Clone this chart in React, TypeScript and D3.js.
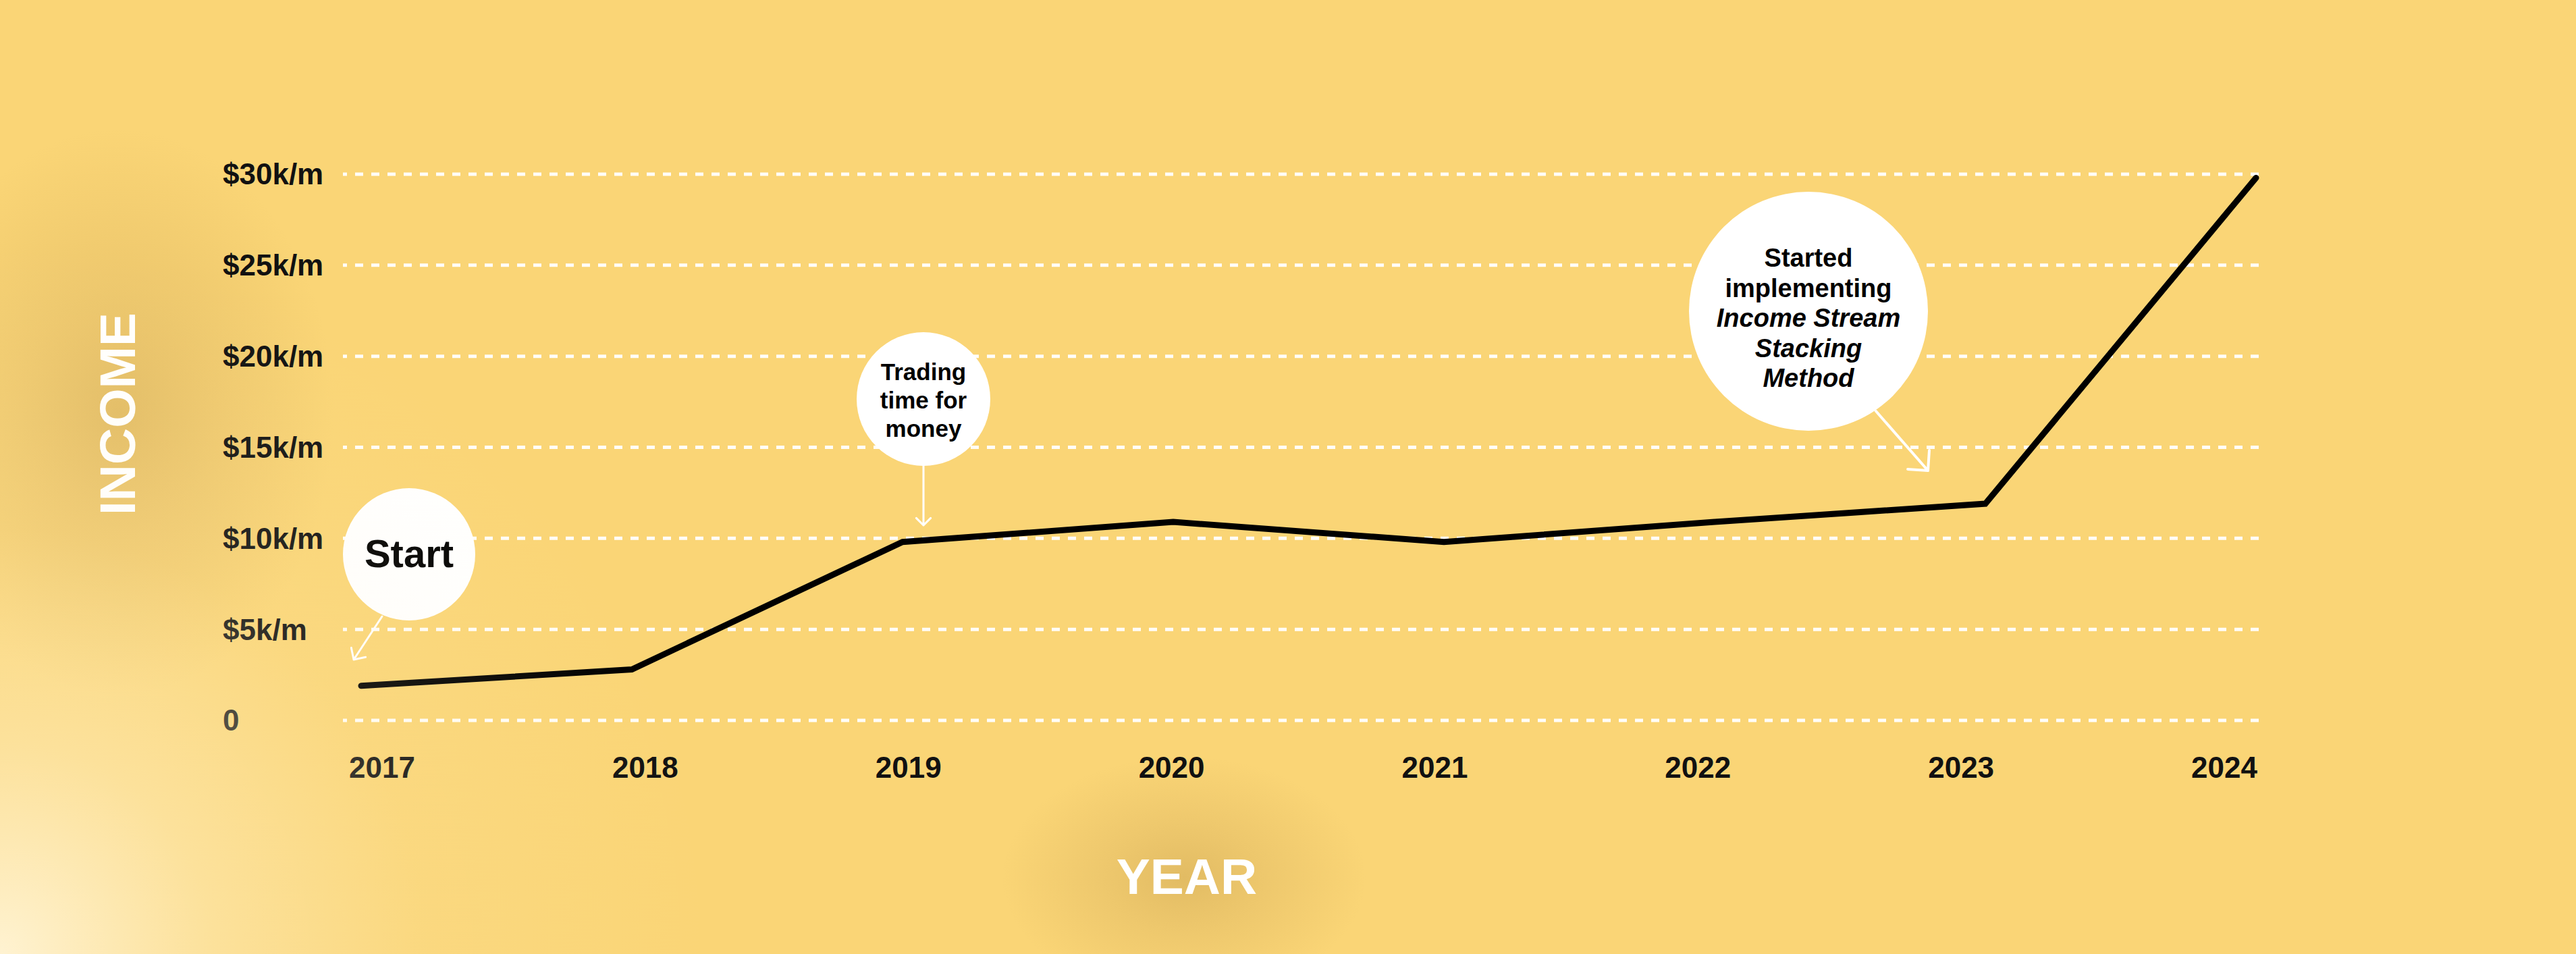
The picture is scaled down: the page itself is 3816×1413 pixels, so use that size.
import React from "react";
import * as d3 from "d3";

const years = [2017, 2018, 2019, 2020, 2021, 2022, 2023, 2024];
const incomeK = [1.9, 2.8, 9.8, 10.9, 9.8, 10.9, 11.9, 29.8];
const yTicks = [0, 5, 10, 15, 20, 25, 30];
const yTickLabels = ["0", "$5k/m", "$10k/m", "$15k/m", "$20k/m", "$25k/m", "$30k/m"];
const startLines = ["Start"];
const tradingLines = ["Trading", "time for", "money"];
const stackingLines = ["Started", "implementing", "Income Stream", "Stacking", "Method"];
const stackingItalic = [false, false, true, true, true];

const W = 3816;
const H = 1413;
const FONT = "'Liberation Sans', Arial, Helvetica, sans-serif";

function Arrow({ x1, y1, x2, y2, w = 3, arm = 18 }: any) {
  const dx = x2 - x1;
  const dy = y2 - y1;
  const len = Math.hypot(dx, dy);
  const ux = dx / len;
  const uy = dy / len;
  const c = Math.SQRT1_2;
  const a1x = ux * c - uy * c;
  const a1y = ux * c + uy * c;
  const a2x = ux * c + uy * c;
  const a2y = -ux * c + uy * c;
  const p = d3.path();
  p.moveTo(x1, y1);
  p.lineTo(x2, y2);
  p.moveTo(x2 - arm * a1x, y2 - arm * a1y);
  p.lineTo(x2, y2);
  p.lineTo(x2 - arm * a2x, y2 - arm * a2y);
  return (
    <path d={p.toString()} fill="none" stroke="#fff" strokeWidth={w} strokeLinecap="round" strokeLinejoin="round" />
  );
}

export default function App() {
  const y = d3.scaleLinear().domain([0, 30]).range([1067, 258]);
  const xLine = d3.scalePoint<number>().domain(years).range([535, 3342]);
  const xLabel = d3.scalePoint<number>().domain(years).range([566, 3295]);
  const gridX0 = 508;
  const gridX1 = 3352;

  const line = d3
    .line<number>()
    .x((_, i) => xLine(years[i]) as number)
    .y((d) => y(d));

  return (
    <>
      <style>{`body{margin:0;}`}</style>
      <svg width={W} height={H} style={{ display: "block" }} fontFamily={FONT}>
        <defs>
          <radialGradient id="darkBlob">
            <stop offset="0%" stopColor="#c49c4c" stopOpacity={0.45} />
            <stop offset="45%" stopColor="#c89f50" stopOpacity={0.24} />
            <stop offset="100%" stopColor="#c89f50" stopOpacity={0} />
          </radialGradient>
          <radialGradient id="cornerGlow" gradientUnits="userSpaceOnUse" cx={0} cy={H} r={1050}>
            <stop offset="0%" stopColor="#fff4d6" stopOpacity={0.95} />
            <stop offset="30%" stopColor="#fff0c8" stopOpacity={0.45} />
            <stop offset="60%" stopColor="#ffefc4" stopOpacity={0.12} />
            <stop offset="100%" stopColor="#ffefc4" stopOpacity={0} />
          </radialGradient>
        </defs>

        <rect x={0} y={0} width={W} height={H} fill="#fad576" />
        <ellipse cx={175} cy={610} rx={320} ry={420} fill="url(#darkBlob)" />
        <ellipse cx={1754} cy={1300} rx={270} ry={180} fill="url(#darkBlob)" />

        {/* gridlines */}
        {yTicks.map((t) => (
          <line
            key={t}
            x1={gridX0}
            x2={gridX1}
            y1={y(t)}
            y2={y(t)}
            stroke="#fff"
            strokeOpacity={0.95}
            strokeWidth={5}
            strokeDasharray="12 12"
            strokeDashoffset={6}
          />
        ))}

        {/* y tick labels */}
        {yTicks.map((t, i) => (
          <text key={t} x={330} y={y(t)} dy="0.35em" fontSize={44} fontWeight="bold" fill="#111">
            {yTickLabels[i]}
          </text>
        ))}

        {/* x tick labels */}
        {years.map((yr) => (
          <text key={yr} x={xLabel(yr)} y={1152} textAnchor="middle" fontSize={44} fontWeight="bold" fill="#111">
            {yr}
          </text>
        ))}

        {/* data line */}
        <path
          d={line(incomeK) as string}
          fill="none"
          stroke="#000"
          strokeWidth={9}
          strokeLinecap="round"
          strokeLinejoin="miter"
        />

        {/* axis titles */}
        <text
          transform={`translate(200,${613}) rotate(-90)`}
          textAnchor="middle"
          fontSize={75}
          fontWeight="bold"
          fill="#fff"
        >
          INCOME
        </text>
        <text x={1758} y={1324} textAnchor="middle" fontSize={75} fontWeight="bold" fill="#fff">
          YEAR
        </text>

        {/* Start bubble */}
        <circle cx={606} cy={821} r={98} fill="#fff" />
        {startLines.map((s, i) => (
          <text key={s} x={606} y={840 + i * 60} textAnchor="middle" fontSize={58} fontWeight="bold" fill="#000">
            {s}
          </text>
        ))}
        <Arrow x1={566} y1={913} x2={524} y2={977} w={3} arm={18} />

        {/* Trading bubble */}
        <circle cx={1368} cy={591} r={99} fill="#fff" />
        {tradingLines.map((s, i) => (
          <text key={s} x={1368} y={563 + i * 42} textAnchor="middle" fontSize={35} fontWeight="bold" fill="#000">
            {s}
          </text>
        ))}
        <Arrow x1={1368} y1={690} x2={1368} y2={778} w={3} arm={15} />

        {/* Stacking bubble */}
        <circle cx={2679} cy={461} r={177} fill="#fff" />
        {stackingLines.map((s, i) => (
          <text
            key={s}
            x={2679}
            y={395 + i * 44.5}
            textAnchor="middle"
            fontSize={38}
            fontWeight="bold"
            fontStyle={stackingItalic[i] ? "italic" : "normal"}
            fill="#000"
          >
            {s}
          </text>
        ))}
        <Arrow x1={2779} y1={609} x2={2856} y2={697} w={4} arm={30} />

        {/* bottom-left light glow over everything */}
        <rect x={0} y={0} width={W} height={H} fill="url(#cornerGlow)" pointerEvents="none" />
      </svg>
    </>
  );
}
